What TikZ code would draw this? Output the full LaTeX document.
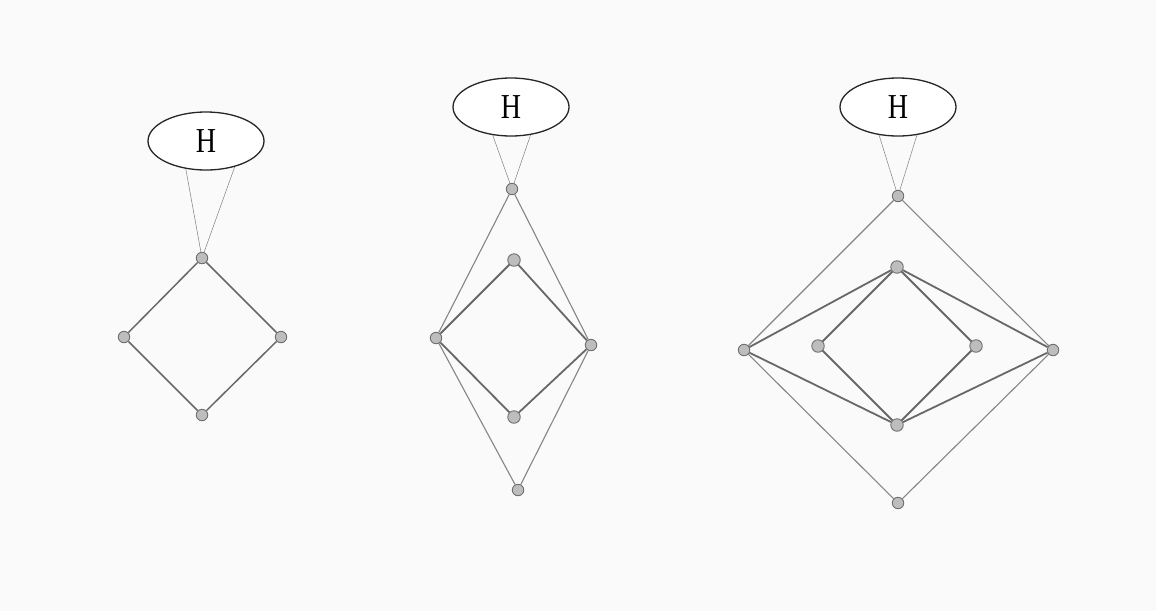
\documentclass[tikz,border=0pt]{standalone}
\usepackage{fontspec}
\newfontfamily\hfont{Liberation Serif}
\usetikzlibrary{shapes.geometric}
\pgfdeclarelayer{bgfill}
\pgfdeclarelayer{edges}
\pgfsetlayers{bgfill,edges,main}
\definecolor{bgc}{HTML}{FAFAFA}
\definecolor{nfill}{HTML}{BDBDBD}
\definecolor{ndraw}{HTML}{707070}
\definecolor{ethin}{HTML}{858585}
\definecolor{ethick}{HTML}{686868}
\tikzset{
  x=1pt,y=-1pt,
  vert/.style={circle,fill=nfill,draw=ndraw,line width=0.9pt,minimum size=11.5pt,inner sep=0pt},
  vertb/.style={vert,minimum size=12.5pt},
  hell/.style={ellipse,draw=black!85,line width=1.3pt,minimum width=116pt,minimum height=58pt,inner sep=0pt,fill=white},
  thinedge/.style={draw=ethin,line width=1.1pt},
  thickedge/.style={draw=ethick,line width=1.8pt},
  hline/.style={draw=black!50,line width=0.5pt},
}
\newcommand{\Hlabel}{\scalebox{0.8}[1]{\hfont\fontsize{35}{35}\selectfont H}}
\begin{document}
\begin{tikzpicture}
\begin{pgfonlayer}{bgfill}
\fill[bgc] (0,0) rectangle (1156,611);
\end{pgfonlayer}
\useasboundingbox (0,0) rectangle (1156,611);

% ---------- Diagram 1 ----------
\node[hell] (H1) at (206,141) {\Hlabel};
\node[vert] (a1) at (202,258) {};
\node[vert] (a2) at (124,337) {};
\node[vert] (a3) at (281,337) {};
\node[vert] (a4) at (202,415) {};
\begin{pgfonlayer}{edges}
\draw[hline] (H1.234) -- (a1.center);
\draw[hline] (H1.318) -- (a1.center);
\draw[thickedge,line width=1.5pt] (a1) -- (a2) -- (a4) -- (a3) -- (a1);
\end{pgfonlayer}

% ---------- Diagram 2 ----------
\node[hell] (H2) at (511,107) {\Hlabel};
\node[vert] (b1) at (512,189) {};
\node[vertb] (b2) at (514,260) {};
\node[vert] (b3) at (436,338) {};
\node[vert] (b4) at (591,345) {};
\node[vertb] (b5) at (514,417) {};
\node[vert] (b6) at (518,490) {};
\begin{pgfonlayer}{edges}
\draw[hline] (H2.237) -- (b1.center);
\draw[hline] (H2.305) -- (b1.center);
\draw[thinedge] (b1) -- (b3);
\draw[thinedge] (b1) -- (b4);
\draw[thinedge] (b3) -- (b6);
\draw[thinedge] (b4) -- (b6);
\draw[thickedge] (b2) -- (b3);
\draw[thickedge] (b2) -- (b4);
\draw[thickedge] (b5) -- (b3);
\draw[thickedge] (b5) -- (b4);
\end{pgfonlayer}

% ---------- Diagram 3 ----------
\node[hell] (H3) at (898,107) {\Hlabel};
\node[vert] (c1) at (898,196) {};
\node[vertb] (c2) at (897,267) {};
\node[vert] (c3) at (744,350) {};
\node[vertb] (c4) at (818,346) {};
\node[vertb] (c5) at (976,346) {};
\node[vert] (c6) at (1053,350) {};
\node[vertb] (c7) at (897,425) {};
\node[vert] (c8) at (898,503) {};
\begin{pgfonlayer}{edges}
\draw[hline] (H3.236) -- (c1.center);
\draw[hline] (H3.304) -- (c1.center);
\draw[thinedge] (c1) -- (c3);
\draw[thinedge] (c1) -- (c6);
\draw[thinedge] (c3) -- (c8);
\draw[thinedge] (c6) -- (c8);
\draw[thickedge] (c2) -- (c3);
\draw[thickedge] (c2) -- (c6);
\draw[thickedge] (c2) -- (c4);
\draw[thickedge] (c2) -- (c5);
\draw[thickedge] (c7) -- (c3);
\draw[thickedge] (c7) -- (c6);
\draw[thickedge] (c7) -- (c4);
\draw[thickedge] (c7) -- (c5);
\end{pgfonlayer}
\end{tikzpicture}
\end{document}
